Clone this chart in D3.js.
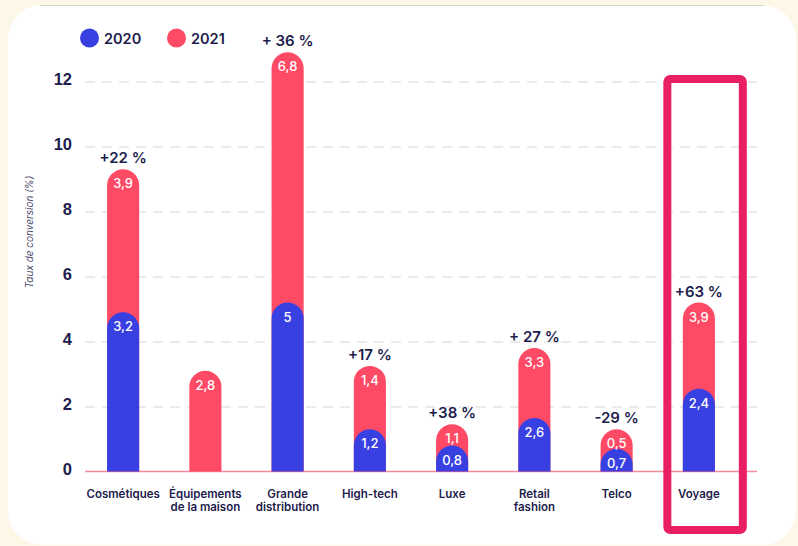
<!DOCTYPE html>
<html>
<head>
<meta charset="utf-8">
<script src="https://cdn.jsdelivr.net/npm/d3@7"></script>
<style>
  body { margin: 0; background: #fdf7e8; }
  svg { display: block; font-family: Inter, "Open Sans", sans-serif; }
</style>
</head>
<body>
<div id="chart"></div>
<script>
// data
var categories = ["Cosmétiques", "Équipements\nde la maison", "Grande\ndistribution", "High-tech", "Luxe", "Retail\nfashion", "Telco", "Voyage"];
var rate2020 = [3.2, null, 5, 1.2, 0.8, 2.6, 0.7, 2.4];
var rate2021 = [3.9, 2.8, 6.8, 1.4, 1.1, 3.3, 0.5, 3.9];
var growth = ["+22 %", "", "+ 36 %", "+17 %", "+38 %", "+ 27 %", "-29 %", "+63 %"];
// drawn heights of the bars on the axis (the infographic is not to scale)
var barTop2020 = [4.9, 0, 5.2, 1.3, 0.8, 1.65, 0.7, 2.55];
var barTop2021 = [9.3, 3.1, 12.9, 3.25, 1.45, 3.8, 1.3, 5.2];
var yTicks = [0, 2, 4, 6, 8, 10, 12];
var highlighted = "Voyage";

var width = 798, height = 546;
var blue = "#3840e2", red = "#ff4a66", navy = "#1d1c4c";

var svg = d3.select("#chart").append("svg")
  .attr("width", width).attr("height", height);

// white card
svg.append("rect")
  .attr("x", 8).attr("y", 5).attr("width", 788).attr("height", 540)
  .attr("rx", 34).attr("fill", "#fff");
svg.append("line")
  .attr("x1", 40).attr("x2", 764).attr("y1", 5.5).attr("y2", 5.5)
  .attr("stroke", "#d9d5c8").attr("stroke-width", 1);

var x = d3.scaleBand()
  .domain(categories)
  .range([82, 740])
  .paddingInner(0.61)
  .paddingOuter(0.305);

var y = d3.scaleLinear()
  .domain([0, 12])
  .range([471.5, 81.5]);

// grid + y labels
var yAxis = svg.append("g")
  .attr("transform", "translate(85,0)")
  .call(d3.axisLeft(y).tickValues(yTicks).tickSize(-672).tickPadding(13).tickFormat(d3.format("d")));
yAxis.select(".domain").remove();
yAxis.selectAll(".tick line")
  .attr("stroke", "#e3e3e3")
  .attr("stroke-width", 1.5)
  .attr("stroke-dasharray", "10,7");
yAxis.selectAll(".tick text")
  .attr("fill", navy)
  .attr("dy", "0.2em")
  .style("font-size", "16.5px")
  .style("font-weight", 700);
yAxis.selectAll(".tick").filter(d => d === 0).select("line").remove();

svg.append("line")
  .attr("x1", 85).attr("x2", 757)
  .attr("y1", y(0)).attr("y2", y(0))
  .attr("stroke", "#f58a9c").attr("stroke-width", 1.5);

svg.append("text")
  .attr("transform", "translate(33," + 232 + ") rotate(-90)")
  .attr("text-anchor", "middle")
  .style("font-size", "10px")
  .style("font-style", "italic")
  .attr("fill", "#4b4a6e")
  .text("Taux de conversion (%)");

// legend
var legend = svg.append("g");
[["2020", blue, 89.5], ["2021", red, 176.5]].forEach(function(l) {
  legend.append("circle").attr("cx", l[2]).attr("cy", 38).attr("r", 9.5).attr("fill", l[1]);
  legend.append("text").attr("x", l[2] + 14.5).attr("y", 44)
    .style("font-size", "14.5px").style("font-weight", 600)
    .attr("fill", navy).text(l[0]);
});

// rounded-top bar path
function barPath(cx, top) {
  var w = x.bandwidth(), r = w / 2;
  var x0 = cx - r, x1 = cx + r, yb = y(0), yt = y(top);
  return "M" + x0 + "," + yb + "V" + (yt + r) +
    "A" + r + "," + r + " 0 0 1 " + x1 + "," + (yt + r) +
    "V" + yb + "Z";
}

var rows = categories.map(function(c, i) {
  return { cat: c, v20: rate2020[i], v21: rate2021[i], t20: barTop2020[i], t21: barTop2021[i], g: growth[i] };
});
var fmt = function(v) { return String(v).replace(".", ","); };
var cx = function(d) { return x(d.cat) + x.bandwidth() / 2; };

var bars = svg.append("g").selectAll("g").data(rows).enter().append("g");

bars.append("path")
  .attr("d", d => barPath(cx(d), d.t21))
  .attr("fill", red);

bars.filter(d => d.v20 != null).append("path")
  .attr("d", d => barPath(cx(d), d.t20))
  .attr("fill", blue);

bars.append("text")
  .attr("x", cx).attr("y", d => y(d.t21) + 19)
  .attr("text-anchor", "middle")
  .attr("fill", "#fff")
  .style("font-size", "13px").style("font-weight", 500)
  .text(d => fmt(d.v21));

bars.filter(d => d.v20 != null).append("text")
  .attr("x", cx).attr("y", d => y(d.t20) + 19)
  .attr("text-anchor", "middle")
  .attr("fill", "#fff")
  .style("font-size", "13px").style("font-weight", 500)
  .text(d => fmt(d.v20));

bars.append("text")
  .attr("x", cx).attr("y", d => y(d.t21) - 6)
  .attr("text-anchor", "middle")
  .attr("fill", navy)
  .style("font-size", "15px").style("font-weight", 600)
  .text(d => d.g);

// category labels
var xl = svg.append("g").selectAll("text").data(rows).enter().append("text")
  .attr("x", cx).attr("y", 498)
  .attr("text-anchor", "middle")
  .attr("fill", navy)
  .style("font-size", "11.5px").style("font-weight", 600);
xl.each(function(d) {
  var lines = d.cat.split("\n");
  var t = d3.select(this);
  lines.forEach(function(s, i) {
    t.append("tspan").attr("x", cx(d)).attr("dy", i ? 13 : 0).text(s);
  });
});

// highlight box round Voyage
svg.append("rect")
  .attr("x", x(highlighted) - 15.5)
  .attr("y", 79)
  .attr("width", 75.5)
  .attr("height", 451)
  .attr("rx", 3)
  .attr("fill", "none")
  .attr("stroke", "#e91f63")
  .attr("stroke-width", 8);
</script>
</body>
</html>
